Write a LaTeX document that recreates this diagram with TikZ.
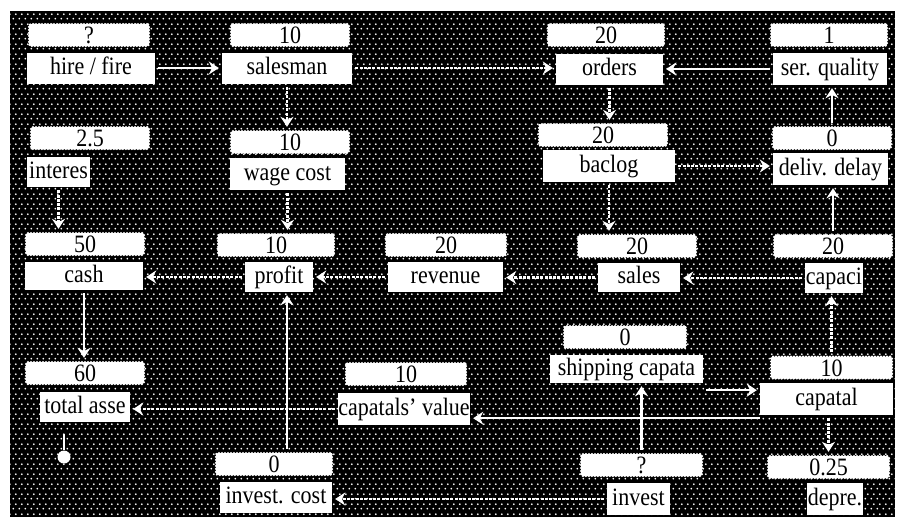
\documentclass[tikz,border=0pt]{standalone}
\usepackage{fontspec}
\setmainfont{Liberation Serif}[FakeStretch=0.88]
\usetikzlibrary{arrows.meta,patterns.meta,calc}

\tikzdeclarepattern{
  name=halftone,
  type=uncolored,
  bottom left={(0pt,0pt)},
  top right={(6pt,10pt)},
  tile size={(6pt,10pt)},
  code={
    \fill (1.5pt,2.5pt) circle (1.1pt);
    \fill (4.5pt,7.5pt) circle (1.1pt);
  }
}

\begin{document}
\begin{tikzpicture}[x=1pt,y=-1pt,
  lab/.style={fill=white, inner sep=0pt, font=\fontsize{25}{27}\selectfont, text=black, text height=17pt, text depth=5pt},
  val/.style={fill=white, draw=white, line width=2.4pt, dash pattern=on 0pt off 3pt, line cap=round, rounded corners=2pt, inner sep=0pt, font=\fontsize{25}{27}\selectfont, text height=17pt, text depth=0pt, minimum height=22pt},
  conn/.style={draw=white, line width=2.4pt, -{Stealth[width=13pt,length=10pt]}, shorten >=3pt, shorten <=3pt},
  wavy/.style={conn, dash pattern=on 3pt off 1.3pt}
]
\useasboundingbox (0,0) rectangle (897,520);
\fill[white] (0,0) rectangle (897,520);
\fill[black] (10,11) rectangle (895,517);
\fill[pattern=halftone, pattern color=white] (10,11) rectangle (895,517);

% row 1
\node[val, minimum width=120pt] (vhire) at (89,35) {?};
\node[lab, minimum width=128pt, minimum height=31pt] (hire) at (91,68) {hire / fire};
\node[val, minimum width=118pt] (vsalesman) at (290,35) {10};
\node[lab, minimum width=130pt, minimum height=31pt] (salesman) at (287,68) {salesman};
\node[val, minimum width=116pt] (vorders) at (606,35) {20};
\node[lab, minimum width=107pt, minimum height=31pt] (orders) at (609.5,69) {orders};
\node[val, minimum width=116pt] (vserq) at (829,35) {1};
\node[lab, minimum width=114pt, minimum height=32pt] (serq) at (830,69) {ser. quality};

% row 2
\node[val, minimum width=118pt] (vint) at (90,138) {2.5};
\node[lab, minimum width=63pt, minimum height=30pt] (interes) at (58.5,172) {interes};
\node[val, minimum width=118pt] (vwage) at (290,142) {10};
\node[lab, minimum width=115pt, minimum height=32pt] (wage) at (287.5,174) {wage cost};
\node[val, minimum width=128pt] (vbac) at (603,135) {20};
\node[lab, minimum width=132pt, minimum height=32pt] (baclog) at (609,166) {baclog};
\node[val, minimum width=118pt] (vdel) at (832,138) {0};
\node[lab, minimum width=115pt, minimum height=32pt] (deliv) at (830.5,169) {deliv. delay};

% row 3
\node[val, minimum width=118pt] (vcash) at (85,244) {50};
\node[lab, minimum width=118pt, minimum height=28pt] (cash) at (84,276) {cash};
\node[val, minimum width=116pt] (vprofit) at (276,245) {10};
\node[lab, minimum width=68pt, minimum height=30pt] (profit) at (279,277) {profit};
\node[val, minimum width=120pt] (vrev) at (446,245) {20};
\node[lab, minimum width=115pt, minimum height=30pt] (revenue) at (445.5,277) {revenue};
\node[val, minimum width=118pt] (vsales) at (637,246) {20};
\node[lab, minimum width=82pt, minimum height=29pt] (sales) at (639,277.5) {sales};
\node[val, minimum width=118pt] (vcap) at (833,246) {20};
\node[lab, minimum width=58pt, minimum height=30pt] (capaci) at (834,278) {capaci};

% row 4
\node[val, minimum width=118pt] (vta) at (85,373) {60};
\node[lab, minimum width=90pt, minimum height=30pt] (ta) at (85,407) {total asse};
\node[val, minimum width=120pt] (vcv) at (406,374) {10};
\node[lab, minimum width=132pt, minimum height=32pt] (cv) at (404,409) {capatals' value};
\node[val, minimum width=122pt] (vship) at (625,337) {0};
\node[lab, minimum width=153pt, minimum height=28pt] (ship) at (626.5,369) {shipping capata};
\node[val, minimum width=121pt] (vcapatal) at (831.5,367.5) {10};
\node[lab, minimum width=133pt, minimum height=32pt] (capatal) at (826.5,399) {capatal};

% row 5
\node[val, minimum width=116pt] (vic) at (274,464) {0};
\node[lab, minimum width=112pt, minimum height=31pt] (ic) at (276,497.5) {invest. cost};
\node[val, minimum width=121pt] (vinv) at (641.5,465) {?};
\node[lab, minimum width=63pt, minimum height=32pt] (invest) at (638.5,499) {invest};
\node[val, minimum width=121pt] (vdep) at (828.5,467) {0.25};
\node[lab, minimum width=56pt, minimum height=32pt] (depre) at (835,499) {depre.};

\node[circle, fill=white, inner sep=0pt, minimum size=13pt] (sink) at (64,457) {};

% connectors
\draw[conn] (hire.east) -- (hire.east -| salesman.west);
\draw[wavy] (salesman.east) -- (salesman.east -| orders.west);
\draw[conn] (serq.west) -- (serq.west -| orders.east);
\draw[wavy] (salesman.south) -- (salesman.south |- vwage.north);
\draw[wavy] (orders.south) -- (orders.south |- vbac.north);
\draw[conn] (vdel.north) -- (vdel.north |- serq.south);
\draw[wavy] (interes.south) -- (interes.south |- vcash.north);
\draw[wavy] (wage.south) -- (wage.south |- vprofit.north);
\draw[wavy] (baclog.east) -- (baclog.east -| deliv.west);
\draw[wavy] (baclog.south) -- (baclog.south |- vsales.north);
\draw[conn] (vcap.north) -- (vcap.north |- deliv.south);
\draw[wavy] (profit.west) -- (profit.west -| cash.east);
\draw[wavy] (revenue.west) -- (revenue.west -| profit.east);
\draw[wavy] (sales.west) -- (sales.west -| revenue.east);
\draw[wavy] (capaci.west) -- (capaci.west -| sales.east);
\draw[wavy] (vcapatal.north) -- (vcapatal.north |- capaci.south);
\draw[conn] (cash.south) -- (cash.south |- vta.north);
\draw[wavy] (cv.west) -- (cv.west -| ta.east);
\draw[conn, shorten <=0pt] ([yshift=-3pt]capatal.south west) -- ([yshift=-3pt]capatal.south west -| cv.east);
\draw[conn] ([yshift=-7pt]ship.south east) -- ([yshift=-7pt]ship.south east -| capatal.west);
\draw[conn] (vinv.north) -- (vinv.north |- ship.south);
\draw[wavy] (invest.west) -- (invest.west -| ic.east);
\draw[conn] ([xshift=13pt]vic.north) -- ([xshift=13pt]vic.north |- profit.south);
\draw[wavy] (vdep.north |- capatal.south) -- (vdep.north);
\draw[draw=white, line width=2.4pt, shorten <=12pt] (ta.south -| sink) -- (sink);
\end{tikzpicture}
\end{document}
